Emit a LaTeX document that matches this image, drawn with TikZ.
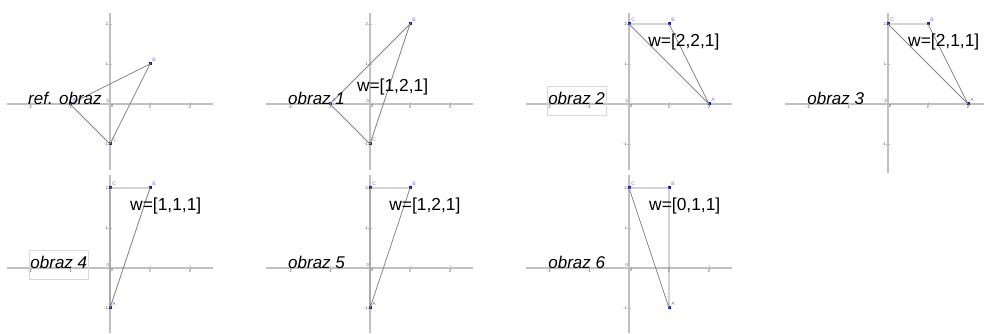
\documentclass[tikz,border=0pt]{standalone}
\usepackage{fontspec}
\setmainfont{Liberation Sans}

\definecolor{osa}{HTML}{C0C0C0}
\definecolor{hrana}{HTML}{858585}
\definecolor{bod}{HTML}{1A1AA8}
\definecolor{popisbod}{HTML}{7070FF}

% axes: xmin xmax ymin ymax
\newcommand{\osy}[4]{%
  \draw[axis] (#1,0) -- (#2,0);
  \draw[axis] (0,#3) -- (0,#4);
  \foreach \n in {-2,-1,1,2} {
    \draw[tick] (\n,-0.04) -- (\n,0.04);
    \node[ticklab, below=2pt] at (\n,0) {\n};
  }
  \foreach \n in {-1,1,2} {
    \draw[tick] (-0.04,\n) -- (0.04,\n);
    \node[ticklab, left=2pt] at (0,\n) {\n};
  }
  \node[ticklab, below right=1pt] at (0,0) {0};
  \node[ticklab, above left=1pt] at (0,0) {0};
}

% triangle: suffix, A, B, C
\newcommand{\trojkat}[4]{%
  \node[pt, label={[ptlab]45:A}] (A#1) at (#2) {};
  \node[pt, label={[ptlab]45:B}] (B#1) at (#3) {};
  \node[pt, label={[ptlab]45:C}] (C#1) at (#4) {};
  \draw[edge] (A#1.center) -- (B#1.center) -- (C#1.center) -- cycle;
}

\begin{document}
\begin{tikzpicture}[x=40pt, y=40pt,
    axis/.style={osa, line width=1.7pt},
    tick/.style={osa, line width=0.6pt},
    ticklab/.style={font=\fontsize{4}{4}\selectfont, text=black!70, inner sep=0pt},
    edge/.style={hrana, line width=0.8pt},
    pt/.style={fill=bod, rectangle, minimum size=3pt, inner sep=0pt},
    ptlab/.style={popisbod, font=\fontsize{5}{5}\selectfont, inner sep=0.5pt},
    nazev/.style={font=\fontsize{17}{20}\selectfont\itshape, anchor=base west, inner sep=0pt},
    nazevbox/.style={nazev, draw=black!15, line width=0.5pt, inner xsep=1pt, inner ysep=6pt, text depth=4pt},
    weight/.style={font=\fontsize{17.4}{20}\selectfont, anchor=west, inner sep=0pt}]
    \useasboundingbox (0,0) rectangle (984pt,334pt);

    % ref. obraz
    \begin{scope}[shift={(110pt,230pt)}]
        \osy{-2.57}{2.57}{-1.65}{2.28}
        \trojkat{0}{-1,0}{1,1}{0,-1}
        \node[nazev] (n0) at (-2.05,-0.02) {ref. obraz};
    \end{scope}

    % obraz 1
    \begin{scope}[shift={(370pt,230pt)}]
        \osy{-2.6}{2.57}{-1.65}{2.28}
        \trojkat{1}{-1,0}{1,2}{0,-1}
        \node[nazev] (n1) at (-2.05,-0.02) {obraz 1};
        \node[weight] (w1) at (-0.33,0.42) {w=[1,2,1]};
    \end{scope}

    % obraz 2
    \begin{scope}[shift={(629pt,230pt)}]
        \osy{-2.57}{2.57}{-1.65}{2.28}
        \trojkat{2}{2,0}{1,2}{0,2}
        \node[nazevbox] (n2) at (-2.05,-0.02) {obraz 2};
        \node[weight] (w2) at (0.48,1.55) {w=[2,2,1]};
    \end{scope}

    % obraz 3
    \begin{scope}[shift={(888pt,230pt)}]
        \osy{-2.57}{2.4}{-1.72}{2.28}
        \trojkat{3}{2,0}{1,2}{0,2}
        \node[nazev] (n3) at (-2.02,-0.02) {obraz 3};
        \node[weight] (w3) at (0.5,1.55) {w=[2,1,1]};
    \end{scope}

    % obraz 4
    \begin{scope}[shift={(110pt,66pt)}]
        \osy{-2.57}{2.57}{-1.63}{2.33}
        \trojkat{4}{0,-1}{1,2}{0,2}
        \node[nazevbox] (n4) at (-2.02,-0.02) {obraz 4};
        \node[weight] (w4) at (0.5,1.55) {w=[1,1,1]};
    \end{scope}

    % obraz 5
    \begin{scope}[shift={(370pt,66pt)}]
        \osy{-2.6}{2.57}{-1.63}{2.33}
        \trojkat{5}{0,-1}{1,2}{0,2}
        \node[nazev] (n5) at (-2.05,-0.02) {obraz 5};
        \node[weight] (w5) at (0.48,1.55) {w=[1,2,1]};
    \end{scope}

    % obraz 6
    \begin{scope}[shift={(629pt,66pt)}]
        \osy{-2.57}{2.57}{-1.63}{2.33}
        \trojkat{6}{1,-1}{1,2}{0,2}
        \node[nazev] (n6) at (-2.02,-0.02) {obraz 6};
        \node[weight] (w6) at (0.5,1.55) {w=[0,1,1]};
    \end{scope}
\end{tikzpicture}
\end{document}
